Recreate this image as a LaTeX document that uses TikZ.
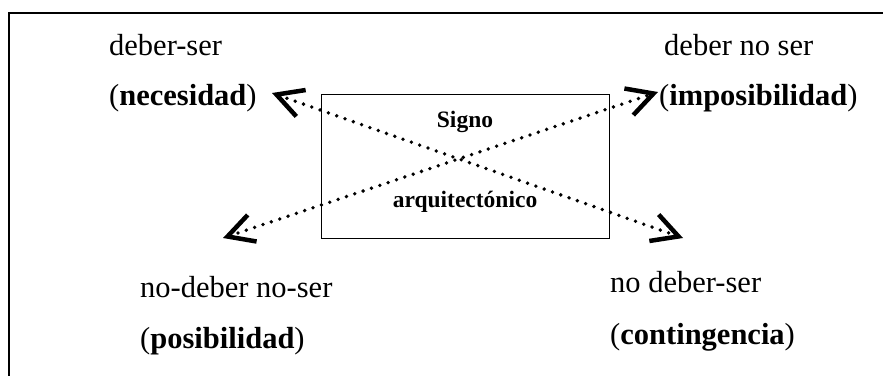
\documentclass[tikz,border=0pt]{standalone}
\usepackage{fontspec}
\setmainfont{Liberation Serif}
\usetikzlibrary{arrows.meta}
\begin{document}
\begin{tikzpicture}[x=1pt,y=-1pt,
  lbl/.style={anchor=base west, inner sep=0pt, font=\fontsize{30.5}{32}\selectfont},
  ctr/.style={anchor=base, inner sep=0pt, font=\fontsize{23.5}{26}\selectfont\bfseries},
  vtip/.tip={Straight Barb[length=26pt,width=28pt,line width=4.5pt]},
  dotarrow/.style={line width=3.8pt, line cap=round, dash pattern=on 0pt off 8.8pt, vtip-vtip}
]
\useasboundingbox (0,0) rectangle (883,376);
\fill[white] (0,0) rectangle (883,376);
% outer frame (only top and left edges visible)
\draw[line width=2.5pt] (883,13) -- (9,13) -- (9,376);
% central box
\node[draw, line width=1pt, minimum width=288pt, minimum height=144pt, inner sep=0pt] (box) at (465,166) {};
\node[ctr] (signo) at (465,127) {Signo};
\node[ctr] (arq) at (465,207) {arquitectónico};
% labels
\node[lbl] (ds) at (109,55) {deber-ser};
\node[lbl] (nec) at (109,105) {(\textbf{necesidad})};
\node[lbl] (dns) at (664,55) {deber no ser};
\node[lbl] (imp) at (659,105) {(\textbf{imposibilidad})};
\node[lbl] (ndns) at (140,297) {no-deber no-ser};
\node[lbl] (pos) at (140,348) {(\textbf{posibilidad})};
\node[lbl] (nds) at (610,292) {no deber-ser};
\node[lbl] (con) at (610,344) {(\textbf{contingencia})};
% arrow ends
\coordinate (tl) at (272,93);
\coordinate (br) at (683,238);
\coordinate (bl) at (223,238);
\coordinate (tr) at (658,92);
\draw[dotarrow] (tl) -- (br);
\draw[dotarrow] (bl) -- (tr);
\end{tikzpicture}
\end{document}
